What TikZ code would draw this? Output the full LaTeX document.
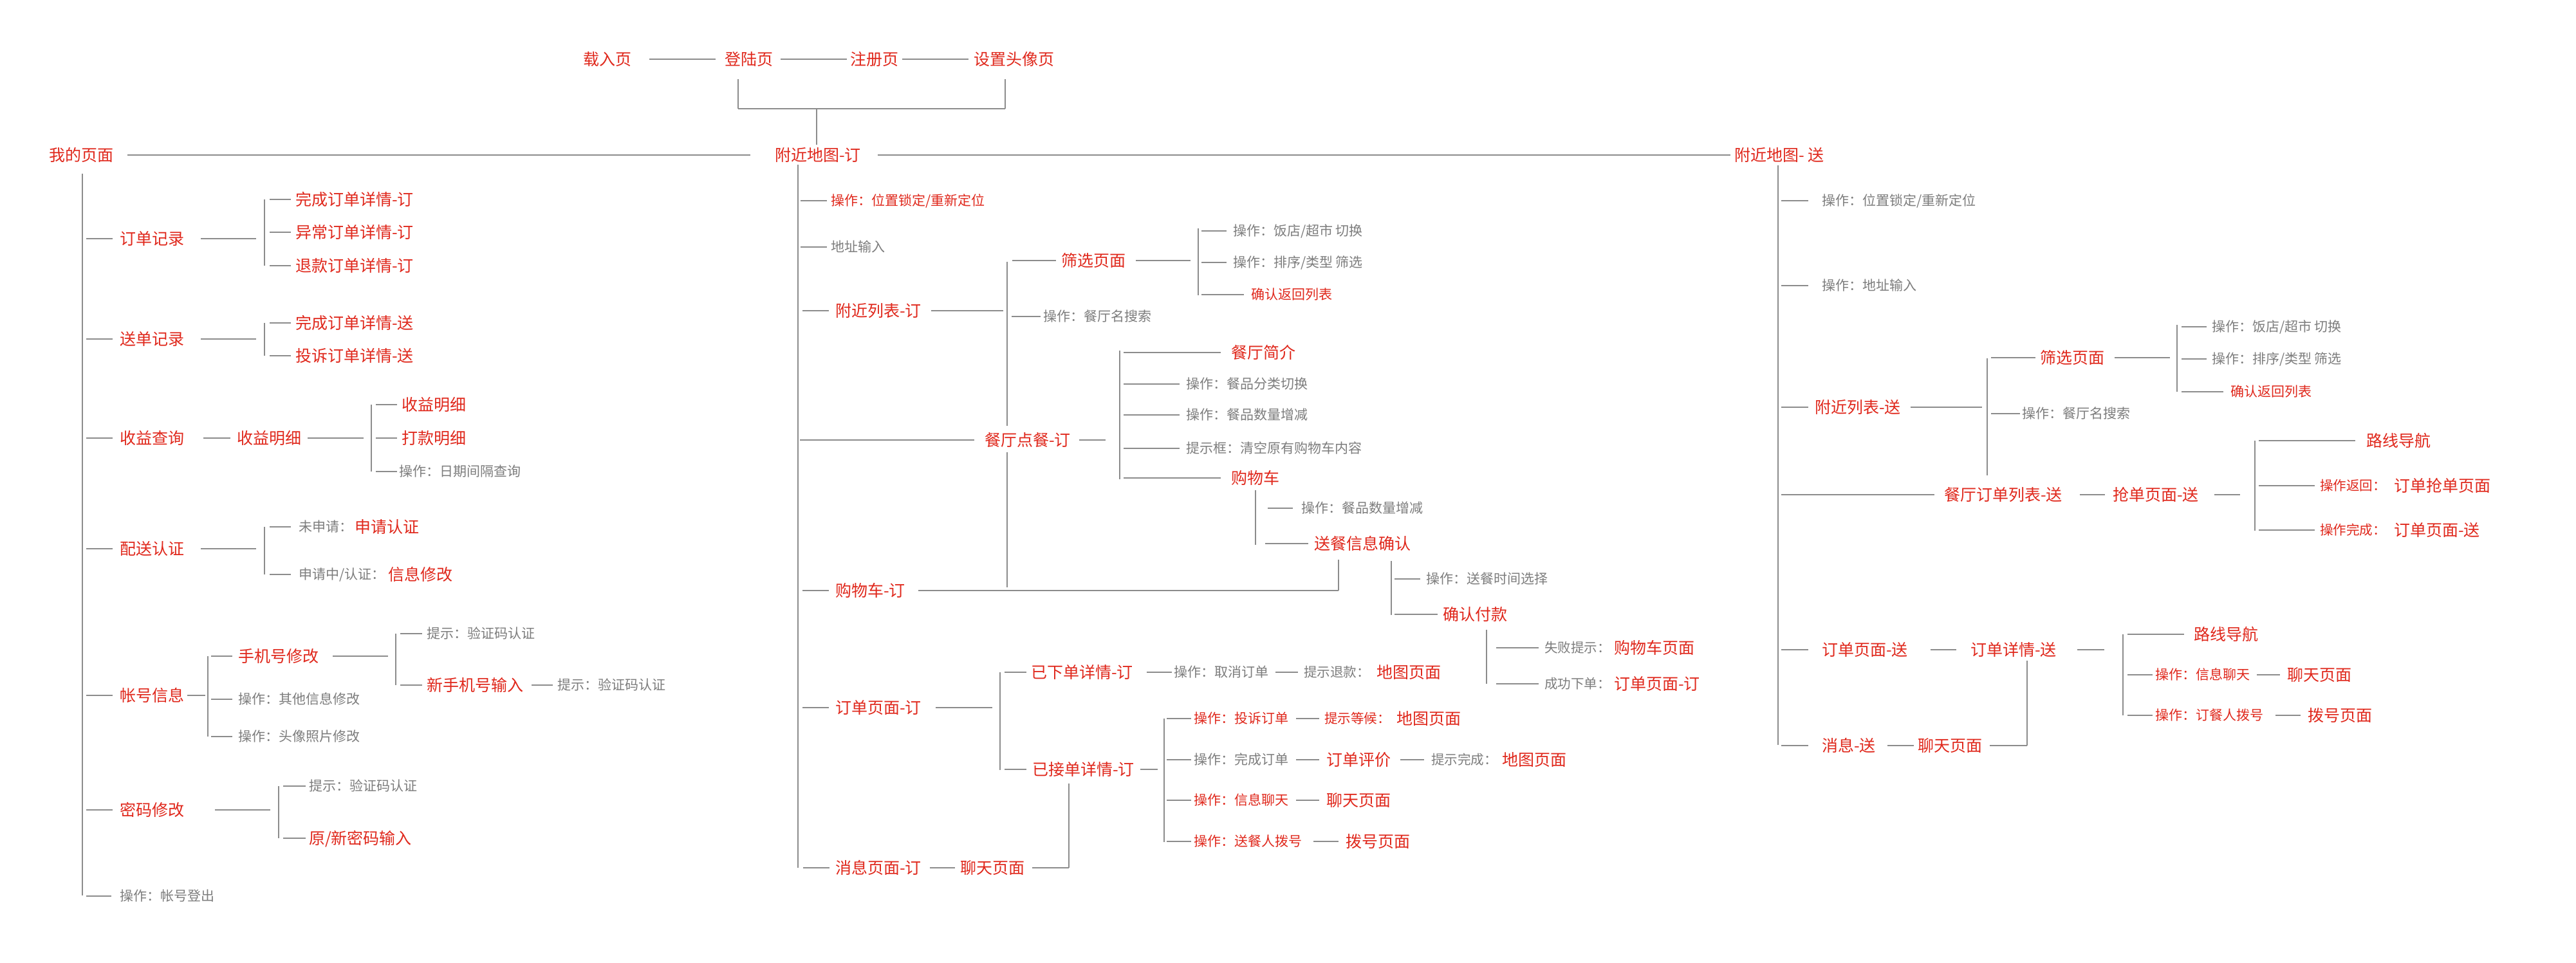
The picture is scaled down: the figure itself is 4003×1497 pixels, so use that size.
\documentclass[tikz,border=0pt]{standalone}
\usepackage{fontspec}
\newfontfamily\cjk{Noto Sans CJK SC}
\usetikzlibrary{calc}
\definecolor{cred}{RGB}{224,40,28}
\definecolor{cgrey}{RGB}{125,125,125}
\definecolor{cline}{RGB}{140,140,140}
\newcommand\tkl[4]{\draw[hl] ($(#2.west -| #1)+(#3,0)$) -- ($(#2.west)+(-#4,0)$);}
\newcommand\nnl[4]{\draw[hl] ($(#1.east)+(#3,0)$) -- ($(#2.west)+(-#4,0)$);}
\newcommand\nbl[4]{\draw[hl] ($(#1.east)+(#3,0)$) -- ($(#1.east -| #2)+(-#4,0)$);}
\begin{document}
\begin{tikzpicture}[x=0.5pt,y=-0.5pt,
 lab/.style={inner sep=0pt,outer sep=0pt,anchor=west},
 R/.style={lab,text=cred,font=\cjk\fontsize{12.5}{15}\selectfont,text height=11pt,text depth=1.5pt},
 RM/.style={lab,text=cred,font=\cjk\fontsize{10.5}{12}\selectfont,text height=9.24pt,text depth=1.26pt},
 RS/.style={lab,text=cred,font=\cjk\fontsize{10.5}{12}\selectfont,text height=9.24pt,text depth=1.26pt},
 RT/.style={lab,text=cred,font=\cjk\fontsize{10.3}{12}\selectfont,text height=9.06pt,text depth=1.24pt},
 G/.style={lab,text=cgrey,font=\cjk\fontsize{10.5}{12}\selectfont,text height=9.24pt,text depth=1.26pt},
 GM/.style={lab,text=cgrey,font=\cjk\fontsize{10.5}{12}\selectfont,text height=9.24pt,text depth=1.26pt},
 GT/.style={lab,text=cgrey,font=\cjk\fontsize{10.3}{12}\selectfont,text height=9.06pt,text depth=1.24pt},
 hl/.style={draw=cline,line width=1pt},
 vl/.style={draw=cline,line width=0.85pt}]
\fill[white] (0,0) rectangle (4003,1497);
\useasboundingbox (0,0) rectangle (4003,1497);
% ---------- top row
\node[R] (t1) at (906,92) {载入页};
\node[R] (t2) at (1126,92) {登陆页};
\node[R] (t3) at (1321,92) {注册页};
\node[R] (t4) at (1513,92) {设置头像页};
\nnl{t1}{t2}{28}{14}
\nnl{t2}{t3}{12}{5}
\nnl{t3}{t4}{6}{8}
\coordinate (u1) at (1147,123);
\coordinate (u2) at (1562,123);
\coordinate (u3) at (1269,169);
\node[R] (m1) at (76,241) {我的页面};
\node[R] (m2) at (1204,241) {附近地图-订};
\node[R] (m3) at (2695,241) {附近地图- 送};
\draw[vl] (u1) -- (u1 |- u3);
\draw[vl] (u2) -- (u2 |- u3);
\draw[hl] (u1 |- u3) -- (u2 |- u3);
\draw[vl] (u3) -- ($(u3 |- m2.north)+(0,-3)$);
\nnl{m1}{m2}{22}{38}
\nnl{m2}{m3}{26}{6}
% ---------- main verticals
\coordinate (L0) at (128,270); \coordinate (L1) at (128,1392); \draw[vl] (L0) -- (L1);
\coordinate (M0) at (1240,256); \coordinate (M1) at (1240,1349); \draw[vl] (M0) -- (M1);
\coordinate (Q0) at (2763,257); \coordinate (Q1) at (2763,1158); \draw[vl] (Q0) -- (Q1);
% ---------- left column
\node[R] (a1) at (186,371) {订单记录};
\tkl{L0}{a1}{6}{11}
\coordinate (k1t) at (411,310); \coordinate (k1b) at (411,413); \draw[vl] (k1t) -- (k1b);
\nbl{a1}{k1t}{26}{13}
\node[R] (a11) at (459,310) {完成订单详情-订};
\node[R] (a12) at (459,361) {异常订单详情-订};
\node[R] (a13) at (459,413) {退款订单详情-订};
\tkl{k1t}{a11}{8}{7} \tkl{k1t}{a12}{8}{7} \tkl{k1t}{a13}{8}{7}
\node[R] (a2) at (186,527) {送单记录};
\tkl{L0}{a2}{6}{11}
\coordinate (k2t) at (411,502); \coordinate (k2b) at (411,553); \draw[vl] (k2t) -- (k2b);
\nbl{a2}{k2t}{26}{13}
\node[R] (a21) at (459,502) {完成订单详情-送};
\node[R] (a22) at (459,553) {投诉订单详情-送};
\tkl{k2t}{a21}{8}{7} \tkl{k2t}{a22}{8}{7}
\node[R] (a3) at (186,681) {收益查询};
\tkl{L0}{a3}{6}{11}
\node[R] (a3x) at (368,681) {收益明细};
\nnl{a3}{a3x}{30}{10}
\coordinate (k3t) at (577,629); \coordinate (k3b) at (577,733); \draw[vl] (k3t) -- (k3b);
\nbl{a3x}{k3t}{10}{12}
\node[R] (a31) at (624,629) {收益明细};
\node[R] (a32) at (624,681) {打款明细};
\node[G] (a33) at (620,733) {操作：日期间隔查询};
\tkl{k3t}{a31}{7}{7} \tkl{k3t}{a32}{7}{7} \tkl{k3t}{a33}{7}{3}
\node[R] (a4) at (186,853) {配送认证};
\tkl{L0}{a4}{6}{11}
\coordinate (k4t) at (411,819); \coordinate (k4b) at (411,893); \draw[vl] (k4t) -- (k4b);
\nbl{a4}{k4t}{26}{13}
\node[G] (a41) at (464,819) {未申请：};
\node[R] (a41r) at (551,819) {申请认证};
\node[G] (a42) at (464,893) {申请中/认证：};
\node[R] (a42r) at (603,893) {信息修改};
\tkl{k4t}{a41}{8}{12} \tkl{k4t}{a42}{8}{12}
\node[R] (a5) at (186,1081) {帐号信息};
\tkl{L0}{a5}{6}{11}
\coordinate (k5t) at (323,1020); \coordinate (k5b) at (323,1145); \draw[vl] (k5t) -- (k5b);
\nbl{a5}{k5t}{5}{4}
\node[R] (a51) at (370,1020) {手机号修改};
\node[G] (a52) at (370,1087) {操作：其他信息修改};
\node[G] (a53) at (370,1145) {操作：头像照片修改};
\tkl{k5t}{a51}{5}{9} \tkl{k5t}{a52}{5}{9} \tkl{k5t}{a53}{5}{9}
\coordinate (k6t) at (615,985); \coordinate (k6b) at (615,1065); \draw[vl] (k6t) -- (k6b);
\nbl{a51}{k6t}{22}{12}
\node[G] (a511) at (663,985) {提示：验证码认证};
\node[R] (a512) at (663,1065) {新手机号输入};
\node[G] (a513) at (866,1065) {提示：验证码认证};
\tkl{k6t}{a511}{7}{7} \tkl{k6t}{a512}{7}{7}
\nnl{a512}{a513}{13}{7}
\node[R] (a6) at (186,1259) {密码修改};
\tkl{L0}{a6}{6}{11}
\coordinate (k7t) at (433,1222); \coordinate (k7b) at (433,1303); \draw[vl] (k7t) -- (k7b);
\nbl{a6}{k7t}{48}{13}
\node[G] (a61) at (480,1222) {提示：验证码认证};
\node[R] (a62) at (480,1303) {原/新密码输入};
\tkl{k7t}{a61}{7}{5} \tkl{k7t}{a62}{7}{5}
\node[G] (a7) at (186,1393) {操作：帐号登出};
\tkl{L0}{a7}{6}{13}
% ---------- middle column
\node[RS] (b1) at (1291,312) {操作：位置锁定/重新定位};
\tkl{M0}{b1}{4}{6}
\node[G] (b2) at (1291,384) {地址输入};
\tkl{M0}{b2}{4}{6}
\node[R] (b3) at (1298,483) {附近列表-订};
\tkl{M0}{b3}{7}{10}
\coordinate (k8t) at (1565,407); \coordinate (k8u) at (1565,662);
\coordinate (k8v) at (1565,703); \coordinate (k8b) at (1565,913);
\draw[vl] (k8t) -- (k8u); \draw[vl] (k8v) -- (k8b);
\nbl{b3}{k8t}{15}{6}
\node[R] (b31) at (1649,405) {筛选页面};
\node[G] (b32) at (1621,492) {操作：餐厅名搜索};
\tkl{k8t}{b31}{8}{8} \tkl{k8t}{b32}{7}{4}
\coordinate (k9t) at (1862,355); \coordinate (k9b) at (1862,459); \draw[vl] (k9t) -- (k9b);
\nbl{b31}{k9t}{16}{12}
\node[G] (b311) at (1916,359) {操作：饭店/超市 切换};
\node[G] (b312) at (1916,408) {操作：排序/类型 筛选};
\node[RS] (b313) at (1944,458) {确认返回列表};
\tkl{k9t}{b311}{5}{10} \tkl{k9t}{b312}{5}{10} \tkl{k9t}{b313}{5}{11}
\node[R] (b4) at (1530,684) {餐厅点餐-订};
\tkl{M0}{b4}{3}{16}
\coordinate (k10t) at (1740,545); \coordinate (k10b) at (1740,745); \draw[vl] (k10t) -- (k10b);
\nbl{b4}{k10t}{13}{22}
\node[R] (b41) at (1913,548) {餐厅简介};
\node[G] (b42) at (1843,597) {操作：餐品分类切换};
\node[G] (b43) at (1843,645) {操作：餐品数量增减};
\node[G] (b44) at (1843,697) {提示框：清空原有购物车内容};
\node[R] (b45) at (1913,743) {购物车};
\tkl{k10t}{b41}{6}{16} \tkl{k10t}{b42}{6}{10} \tkl{k10t}{b43}{6}{10}
\tkl{k10t}{b44}{6}{10} \tkl{k10t}{b45}{6}{16}
\coordinate (k11t) at (1951,762); \coordinate (k11b) at (1951,847); \draw[vl] (k11t) -- (k11b);
\node[G] (b451) at (2022,790) {操作：餐品数量增减};
\node[R] (b452) at (2042,845) {送餐信息确认};
\tkl{k11t}{b451}{19}{13} \tkl{k11t}{b452}{15}{9}
\coordinate (k13t) at (2162,872); \coordinate (k13b) at (2162,956); \draw[vl] (k13t) -- (k13b);
\node[G] (b4521) at (2216,900) {操作：送餐时间选择};
\node[R] (b4522) at (2242,955) {确认付款};
\tkl{k13t}{b4521}{5}{9} \tkl{k13t}{b4522}{5}{8}
\coordinate (k14t) at (2310,979); \coordinate (k14b) at (2310,1063); \draw[vl] (k14t) -- (k14b);
\node[GT] (b45221) at (2400,1007) {失败提示：};
\node[R] (b45221r) at (2508,1007) {购物车页面};
\node[GT] (b45222) at (2400,1063) {成功下单：};
\node[R] (b45222r) at (2508,1063) {订单页面-订};
\tkl{k14t}{b45221}{15}{9} \tkl{k14t}{b45222}{15}{9}
\node[R] (b5) at (1298,918) {购物车-订};
\tkl{M0}{b5}{7}{10}
\coordinate (k12t) at (2080,870);
\draw[vl] (k12t) -- (k12t |- b5.east);
\draw[hl] ($(b5.east)+(20,0)$) -- (k12t |- b5.east);
\node[R] (b6) at (1298,1100) {订单页面-订};
\tkl{M0}{b6}{7}{10}
\coordinate (k15t) at (1554,1045); \coordinate (k15b) at (1554,1197); \draw[vl] (k15t) -- (k15b);
\nbl{b6}{k15t}{22}{12}
\node[R] (b61) at (1602,1045) {已下单详情-订};
\node[R] (b62) at (1604,1196) {已接单详情-订};
\tkl{k15t}{b61}{7}{7} \tkl{k15t}{b62}{7}{9}
\node[GM] (b61a) at (1824,1045) {操作：取消订单};
\node[GT] (b61b) at (2026,1045) {提示退款：};
\node[R] (b61c) at (2139,1045) {地图页面};
\nnl{b61}{b61a}{21}{3}
\nnl{b61a}{b61b}{11}{9}
\coordinate (k16t) at (1809,1117); \coordinate (k16b) at (1809,1309); \draw[vl] (k16t) -- (k16b);
\nbl{b62}{k16t}{9}{10}
\node[RM] (b621) at (1855,1117) {操作：投诉订单};
\node[RT] (b621b) at (2058,1117) {提示等候：};
\node[R] (b621c) at (2170,1117) {地图页面};
\nnl{b621}{b621b}{12}{8}
\node[GM] (b622) at (1855,1181) {操作：完成订单};
\node[R] (b622b) at (2061,1181) {订单评价};
\node[GT] (b622c) at (2224,1181) {提示完成：};
\node[R] (b622d) at (2334,1181) {地图页面};
\nnl{b622}{b622b}{12}{11}
\nnl{b622b}{b622c}{15}{11}
\node[RM] (b623) at (1855,1244) {操作：信息聊天};
\node[R] (b623b) at (2061,1244) {聊天页面};
\nnl{b623}{b623b}{12}{11}
\node[RM] (b624) at (1855,1308) {操作：送餐人拨号};
\node[R] (b624b) at (2091,1308) {拨号页面};
\nnl{b624}{b624b}{18}{11}
\tkl{k16t}{b621}{4}{4} \tkl{k16t}{b622}{4}{4} \tkl{k16t}{b623}{4}{4} \tkl{k16t}{b624}{4}{4}
\node[R] (b7) at (1298,1349) {消息页面-订};
\tkl{M0}{b7}{8}{9}
\node[R] (b7b) at (1492,1349) {聊天页面};
\nnl{b7}{b7b}{13}{8}
\coordinate (k17t) at (1661,1218);
\draw[vl] (k17t) -- (k17t |- b7b.east);
\draw[hl] ($(b7b.east)+(12,0)$) -- (k17t |- b7b.east);
% ---------- right column
\node[G] (c1) at (2831,312) {操作：位置锁定/重新定位};
\node[G] (c2) at (2831,444) {操作：地址输入};
\tkl{Q0}{c1}{5}{21} \tkl{Q0}{c2}{5}{21}
\node[R] (c3) at (2820,633) {附近列表-送};
\tkl{Q0}{c3}{5}{10}
\coordinate (k18t) at (3088,557); \coordinate (k18b) at (3088,739); \draw[vl] (k18t) -- (k18b);
\nbl{c3}{k18t}{15}{8}
\node[R] (c31) at (3170,556) {筛选页面};
\node[G] (c32) at (3142,643) {操作：餐厅名搜索};
\tkl{k18t}{c31}{6}{7} \tkl{k18t}{c32}{6}{3}
\coordinate (k19t) at (3383,505); \coordinate (k19b) at (3383,609); \draw[vl] (k19t) -- (k19b);
\nbl{c31}{k19t}{16}{11}
\node[G] (c311) at (3437,508) {操作：饭店/超市 切换};
\node[G] (c312) at (3437,558) {操作：排序/类型 筛选};
\node[RS] (c313) at (3466,609) {确认返回列表};
\tkl{k19t}{c311}{7}{8} \tkl{k19t}{c312}{7}{8} \tkl{k19t}{c313}{7}{11}
\node[R] (c4) at (3021,769) {餐厅订单列表-送};
\tkl{Q0}{c4}{5}{15}
\node[R] (c4b) at (3283,769) {抢单页面-送};
\nnl{c4}{c4b}{27}{12}
\coordinate (k20t) at (3504,685); \coordinate (k20b) at (3504,825); \draw[vl] (k20t) -- (k20b);
\nbl{c4b}{k20t}{24}{23}
\node[R] (c41) at (3677,685) {路线导航};
\node[RT] (c42) at (3605,755) {操作返回：};
\node[R] (c42b) at (3720,755) {订单抢单页面};
\node[RT] (c43) at (3605,824) {操作完成：};
\node[R] (c43b) at (3720,824) {订单页面-送};
\tkl{k20t}{c41}{6}{17} \tkl{k20t}{c42}{6}{8} \tkl{k20t}{c43}{6}{8}
\node[R] (c5) at (2831,1010) {订单页面-送};
\tkl{Q0}{c5}{5}{21}
\node[R] (c5b) at (3062,1010) {订单详情-送};
\nnl{c5}{c5b}{35}{22}
\coordinate (k21t) at (3299,986); \coordinate (k21b) at (3299,1112); \draw[vl] (k21t) -- (k21b);
\nbl{c5b}{k21t}{32}{29}
\node[R] (c51) at (3409,986) {路线导航};
\node[RM] (c52) at (3349,1049) {操作：信息聊天};
\node[R] (c52b) at (3554,1049) {聊天页面};
\node[RM] (c53) at (3349,1112) {操作：订餐人拨号};
\node[R] (c53b) at (3586,1112) {拨号页面};
\tkl{k21t}{c51}{7}{15} \tkl{k21t}{c52}{7}{4} \tkl{k21t}{c53}{7}{4}
\nnl{c52}{c52b}{11}{11}
\nnl{c53}{c53b}{19}{11}
\coordinate (k22t) at (3150,1027);
\node[R] (c6) at (2831,1159) {消息-送};
\tkl{Q0}{c6}{5}{21}
\node[R] (c6b) at (2980,1159) {聊天页面};
\nnl{c6}{c6b}{18}{6}
\draw[vl] (k22t) -- (k22t |- c6b.east);
\draw[hl] ($(c6b.east)+(12,0)$) -- (k22t |- c6b.east);
\end{tikzpicture}
\end{document}
